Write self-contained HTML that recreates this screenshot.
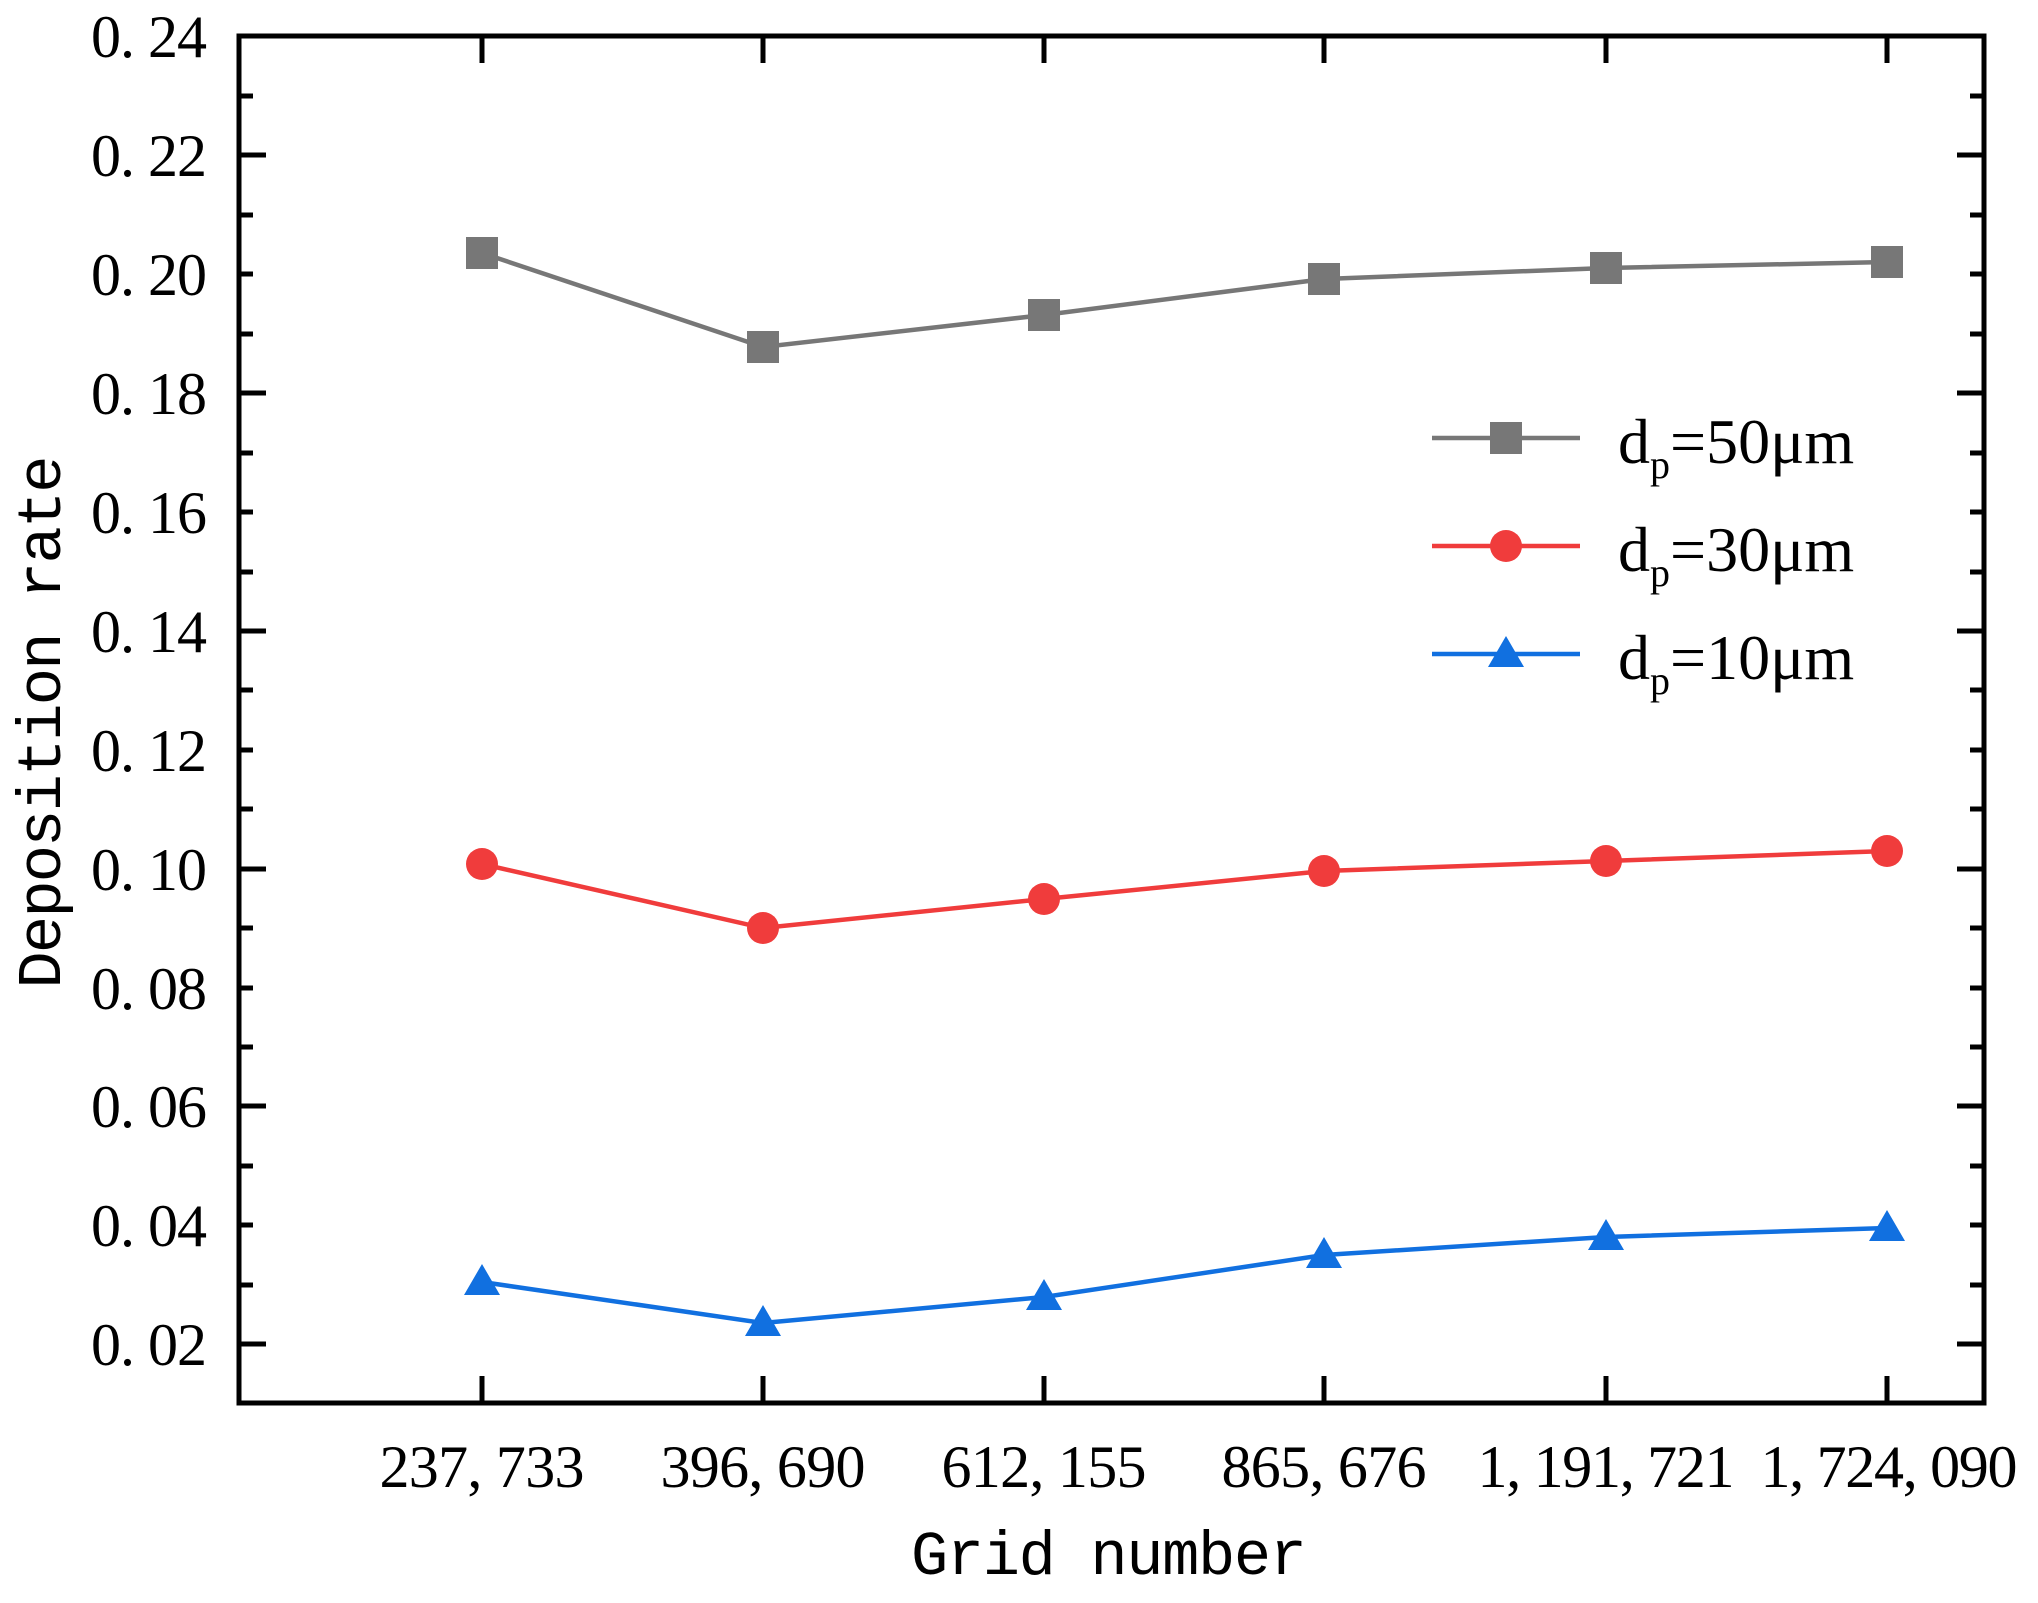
<!DOCTYPE html>
<html><head><meta charset="utf-8"><style>html,body{margin:0;padding:0;background:#fff}</style></head>
<body>
<svg width="2038" height="1598" xmlns="http://www.w3.org/2000/svg" font-family="Liberation Serif, serif">
<rect width="2038" height="1598" fill="#fff"/>
<g stroke="#000" stroke-width="5">
<path d="M239 155h27M239 274h14M239 393h27M239 512h14M239 631h27M239 750h14M239 869h27M239 988h14M239 1106h27M239 1225h14M239 1344h27M239 96h14M239 215h14M239 334h14M239 453h14M239 572h14M239 690h14M239 809h14M239 928h14M239 1047h14M239 1166h14M239 1285h14" />
<path d="M1984 155h-27M1984 393h-27M1984 631h-27M1984 869h-27M1984 1106h-27M1984 1344h-27M1984 96h-14M1984 215h-14M1984 274h-14M1984 334h-14M1984 453h-14M1984 512h-14M1984 572h-14M1984 690h-14M1984 750h-14M1984 809h-14M1984 928h-14M1984 988h-14M1984 1047h-14M1984 1166h-14M1984 1225h-14M1984 1285h-14"/>
<path d="M482 1403v-27M763 1403v-27M1044 1403v-27M1324 1403v-27M1606 1403v-27M1887 1403v-27M482 36v27M763 36v27M1044 36v27M1324 36v27M1606 36v27M1887 36v27"/>
</g>
<rect x="239" y="36" width="1745" height="1367" fill="none" stroke="#000" stroke-width="5"/>
<g font-size="60" text-anchor="end">
<text x="207" y="57" textLength="116">0. 24</text>
<text x="207" y="176" textLength="116">0. 22</text>
<text x="207" y="295" textLength="116">0. 20</text>
<text x="207" y="414" textLength="116">0. 18</text>
<text x="207" y="533" textLength="116">0. 16</text>
<text x="207" y="652" textLength="116">0. 14</text>
<text x="207" y="771" textLength="116">0. 12</text>
<text x="207" y="890" textLength="116">0. 10</text>
<text x="207" y="1009" textLength="116">0. 08</text>
<text x="207" y="1127" textLength="116">0. 06</text>
<text x="207" y="1246" textLength="116">0. 04</text>
<text x="207" y="1365" textLength="116">0. 02</text>
</g>
<g font-size="60" text-anchor="middle">
<text x="482" y="1487" textLength="205">237, 733</text>
<text x="763" y="1487" textLength="205">396, 690</text>
<text x="1044" y="1487" textLength="205">612, 155</text>
<text x="1324" y="1487" textLength="205">865, 676</text>
<text x="1606" y="1487" textLength="257">1, 191, 721</text>
<text x="1889" y="1487" textLength="257">1, 724, 090</text>
</g>
<text x="1109" y="1574" font-family="Liberation Mono, monospace" font-size="62" text-anchor="middle" textLength="396">Grid number</text>
<text transform="translate(60 722) rotate(-90)" font-family="Liberation Mono, monospace" font-size="62" text-anchor="middle" textLength="533">Deposition rate</text>
<polyline fill="none" stroke="#777" stroke-width="4.5" points="482,253 763,347 1044,315 1324,279 1606,268 1887,262"/>
<g fill="#777">
<rect x="466" y="237" width="32" height="32"/><rect x="747" y="331" width="32" height="32"/><rect x="1028" y="299" width="32" height="32"/><rect x="1308" y="263" width="32" height="32"/><rect x="1590" y="252" width="32" height="32"/><rect x="1871" y="246" width="32" height="32"/>
</g>
<polyline fill="none" stroke="#f03c3c" stroke-width="4.5" points="482,864 763,928 1044,899 1324,871 1606,861 1887,851"/>
<g fill="#f03c3c">
<circle cx="482" cy="864" r="16"/><circle cx="763" cy="928" r="16"/><circle cx="1044" cy="899" r="16"/><circle cx="1324" cy="871" r="16"/><circle cx="1606" cy="861" r="16"/><circle cx="1887" cy="851" r="16"/>
</g>
<polyline fill="none" stroke="#1170e0" stroke-width="4.5" points="482,1282 763,1323 1044,1297 1324,1255 1606,1237 1887,1228"/>
<g fill="#1170e0">
<path d="M482 1264l18 31h-36z"/><path d="M763 1305l18 31h-36z"/><path d="M1044 1279l18 31h-36z"/><path d="M1324 1237l18 31h-36z"/><path d="M1606 1219l18 31h-36z"/><path d="M1887 1210l18 31h-36z"/>
</g>
<path d="M1432 438h148" stroke="#777" stroke-width="4.5"/><rect x="1490" y="422" width="32" height="32" fill="#777"/>
<path d="M1432 546h148" stroke="#f03c3c" stroke-width="4.5"/><circle cx="1506" cy="546" r="16" fill="#f03c3c"/>
<path d="M1432 654h148" stroke="#1170e0" stroke-width="4.5"/><path d="M1506 636l18 31h-36z" fill="#1170e0"/>
<g font-size="64">
<text x="1618" y="463">d<tspan font-size="40" dy="15">p</tspan><tspan dy="-15">=50μm</tspan></text>
<text x="1618" y="571">d<tspan font-size="40" dy="15">p</tspan><tspan dy="-15">=30μm</tspan></text>
<text x="1618" y="679">d<tspan font-size="40" dy="15">p</tspan><tspan dy="-15">=10μm</tspan></text>
</g>
</svg>
</body></html>
